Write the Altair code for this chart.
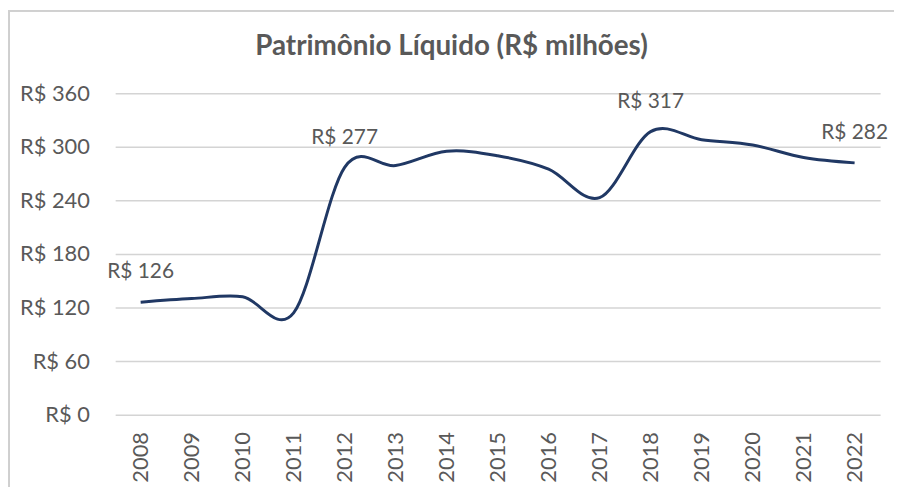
import altair as alt
import pandas as pd

years = [str(y) for y in range(2008, 2023)]
values = [126, 130, 132, 114, 277, 279, 295, 290, 275, 243, 317, 308, 302, 288, 282]
label_years = ["2008", "2012", "2018", "2022"]
y_ticks = [0, 60, 120, 180, 240, 300, 360]
title_text = ["Patrimônio Líquido (R$ milhões)"]

df = pd.DataFrame({"ano": years, "valor": values})
df["rotulo"] = ["R$ " + str(v) if a in label_years else "" for a, v in zip(years, values)]
df_title = pd.DataFrame({"t": title_text})

FONT = "Lato"
GRAY = "#595959"

x = alt.X("ano:O", scale=alt.Scale(type="point", padding=0.5),
          axis=alt.Axis(title=None, labelAngle=270, labelAlign="right", labelBaseline="middle",
                        labelPadding=17, ticks=False, domain=False, grid=False,
                        labelFontSize=22, labelColor=GRAY, labelFont=FONT))
y = alt.Y("valor:Q", scale=alt.Scale(domain=[0, 360], nice=False, zero=True),
          axis=alt.Axis(title=None, values=y_ticks, labelExpr="'R$ ' + datum.value",
                        ticks=False, domain=False, grid=True, gridColor="#d4d4d4", gridWidth=1.5,
                        labelPadding=26, labelFontSize=22, labelColor=GRAY, labelFont=FONT))

base = alt.Chart(df)
line = base.mark_line(interpolate="cardinal", tension=0, color="#203864", strokeWidth=3).encode(x=x, y=y)
labels = base.mark_text(dy=-30, fontSize=21, color=GRAY, font=FONT).encode(
    x=x, y=y, text="rotulo:N")

title = alt.Chart(df_title).mark_text(fontSize=28, fontWeight="bold", color=GRAY, font=FONT).encode(
    x=alt.value(339), y=alt.value(-47), text="t:N")

frame_top = alt.Chart(df).mark_rule(color="#d0d0d0", strokeWidth=2).encode(
    x=alt.value(-107), x2=alt.value(800), y=alt.value(-83))
frame_left = alt.Chart(df).mark_rule(color="#d0d0d0", strokeWidth=2).encode(
    x=alt.value(-107), y=alt.value(-83), y2=alt.value(420))

chart = alt.layer(frame_top, frame_left, line, labels, title).properties(
    width=771, height=324,
    autosize="none",
    padding={"left": 108, "top": 84, "right": 14, "bottom": 71},
).configure_view(stroke=None)

chart.save("out.html", embed_options={"renderer": "svg", "actions": False})
